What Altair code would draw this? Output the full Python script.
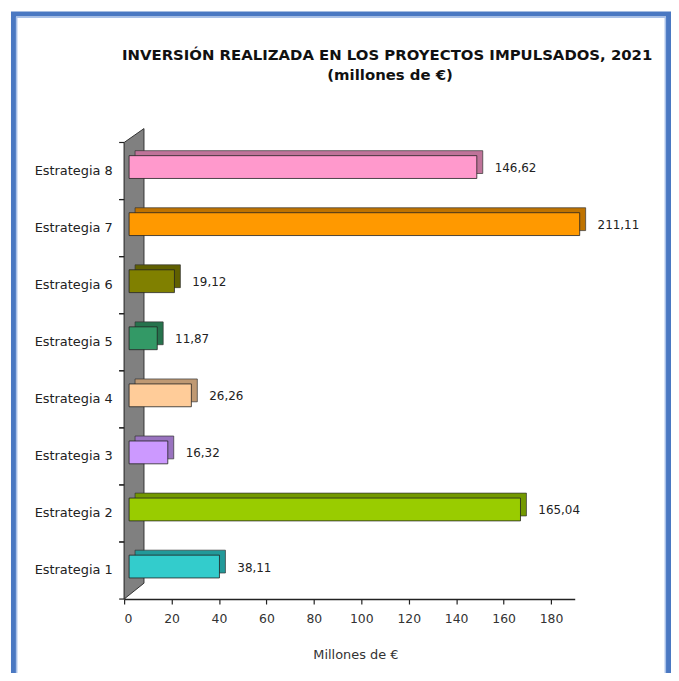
import altair as alt
import pandas as pd

categories = ["Estrategia 1", "Estrategia 2", "Estrategia 3", "Estrategia 4",
              "Estrategia 5", "Estrategia 6", "Estrategia 7", "Estrategia 8"]
values = [38.11, 165.04, 16.32, 26.26, 11.87, 19.12, 211.11, 146.62]
front_colors = ["#33CCCC", "#99CC00", "#CC99FF", "#FFCC99",
                "#339966", "#808000", "#FF9900", "#FF99CC"]
side_colors = ["#229999", "#739900", "#9973BF", "#BF9973",
               "#26734D", "#606000", "#BF7300", "#BF7399"]
x_ticks = [0, 20, 40, 60, 80, 100, 120, 140, 160, 180]
title_line1 = "INVERSIÓN REALIZADA EN LOS PROYECTOS IMPULSADOS, 2021"
title_line2 = "(millones de €)"
x_title = "Millones de €"

labels = [f"{v:.2f}".replace(".", ",") for v in values]
df = pd.DataFrame({"cat": categories, "val": values, "label": labels,
                   "front": front_colors, "side": side_colors})
order = list(reversed(categories))

xscale = alt.Scale(domain=[0, 190], clamp=True, nice=False)
yscale = alt.Scale(domain=order, paddingInner=0, paddingOuter=0)

x_axis = alt.Axis(values=x_ticks, title=x_title, grid=False, domainColor="#222222",
                  domainWidth=1.5, tickColor="#222222", tickSize=5, tickWidth=1.2,
                  labelFont="DejaVu Sans", labelFontSize=12.5, labelColor="#333333",
                  labelPadding=9, titleFont="DejaVu Sans", titleFontSize=13,
                  titleFontWeight="normal", titleColor="#333333",
                  titleX=233, titleY=60, titleAlign="center",
                  titleBaseline="alphabetic")
y_axis = alt.Axis(title=None, ticks=False, grid=False, domainColor="#222222",
                  domainWidth=1.5, labelFont="DejaVu Sans", labelFontSize=13,
                  labelColor="#222222", labelPadding=12)

base = alt.Chart(df)
one = pd.DataFrame({"a": [0]})

frame = alt.Chart(one).mark_rect(
    fillOpacity=0, stroke="#4A78C2", strokeWidth=5
).encode(x=alt.value(-111.5), x2=alt.value(548.5), y=alt.value(-129.5), y2=alt.value(580))
frame_inner = alt.Chart(one).mark_rect(
    fillOpacity=0, stroke="#A9C1E8", strokeWidth=1.5
).encode(x=alt.value(-108.25), x2=alt.value(545.25), y=alt.value(-126.25), y2=alt.value(580))

title1 = alt.Chart(one).mark_text(
    font="DejaVu Sans", fontSize=15, fontWeight="bold", color="#111111",
    align="center", baseline="alphabetic"
).encode(x=alt.value(265), y=alt.value(-83), text=alt.value(title_line1))
title2 = alt.Chart(one).mark_text(
    font="DejaVu Sans", fontSize=15, fontWeight="bold", color="#111111",
    align="center", baseline="alphabetic"
).encode(x=alt.value(268), y=alt.value(-63), text=alt.value(title_line2))

wall_path = "M -0.0435 -1 L 0.0435 -1.0609 L 0.0435 0.9304 L -0.0435 1 Z"
wall = alt.Chart(one).mark_point(
    shape=wall_path, size=211600, filled=True, fill="#808080",
    stroke="#333333", strokeWidth=1, opacity=1
).encode(x=alt.value(10), y=alt.value(230))

back = base.mark_bar(size=23, xOffset=11, yOffset=-9, stroke="#333333", strokeWidth=0.7).encode(
    x=alt.X("val:Q", scale=xscale, axis=x_axis),
    y=alt.Y("cat:N", scale=yscale, sort=order, axis=y_axis),
    fill=alt.Fill("side:N", scale=None),
)

front = base.mark_bar(size=23, xOffset=5, yOffset=-4, stroke="#222222", strokeWidth=0.8).encode(
    x=alt.X("val:Q", scale=xscale, axis=x_axis),
    y=alt.Y("cat:N", scale=yscale, sort=order, axis=y_axis),
    fill=alt.Fill("front:N", scale=None),
)

ticks_top = base.mark_rule(color="#222222", strokeWidth=1.2).encode(
    y=alt.Y("cat:N", scale=yscale, sort=order, bandPosition=0, axis=y_axis),
    x=alt.value(-5), x2=alt.value(0),
)
ticks_bottom = base.mark_rule(color="#222222", strokeWidth=1.2).encode(
    y=alt.Y("cat:N", scale=yscale, sort=order, bandPosition=1, axis=y_axis),
    x=alt.value(-5), x2=alt.value(0),
)

text = base.mark_text(align="left", baseline="middle", dx=23, dy=-3,
                      font="DejaVu Sans", fontSize=12, color="#222222").encode(
    x=alt.X("val:Q", scale=xscale, axis=x_axis),
    y=alt.Y("cat:N", scale=yscale, sort=order, axis=y_axis),
    text="label:N",
)

chart = alt.layer(frame, frame_inner, title1, title2, wall, back, front,
                  ticks_top, ticks_bottom, text).properties(
    width=454, height=460,
    background="white",
    autosize=alt.AutoSizeParams(type="none"),
    padding={"left": 117, "top": 133, "right": 97, "bottom": 72},
).configure_view(strokeWidth=0, stroke="transparent")

chart.save("out.html", embed_options={"renderer": "svg", "actions": False})
